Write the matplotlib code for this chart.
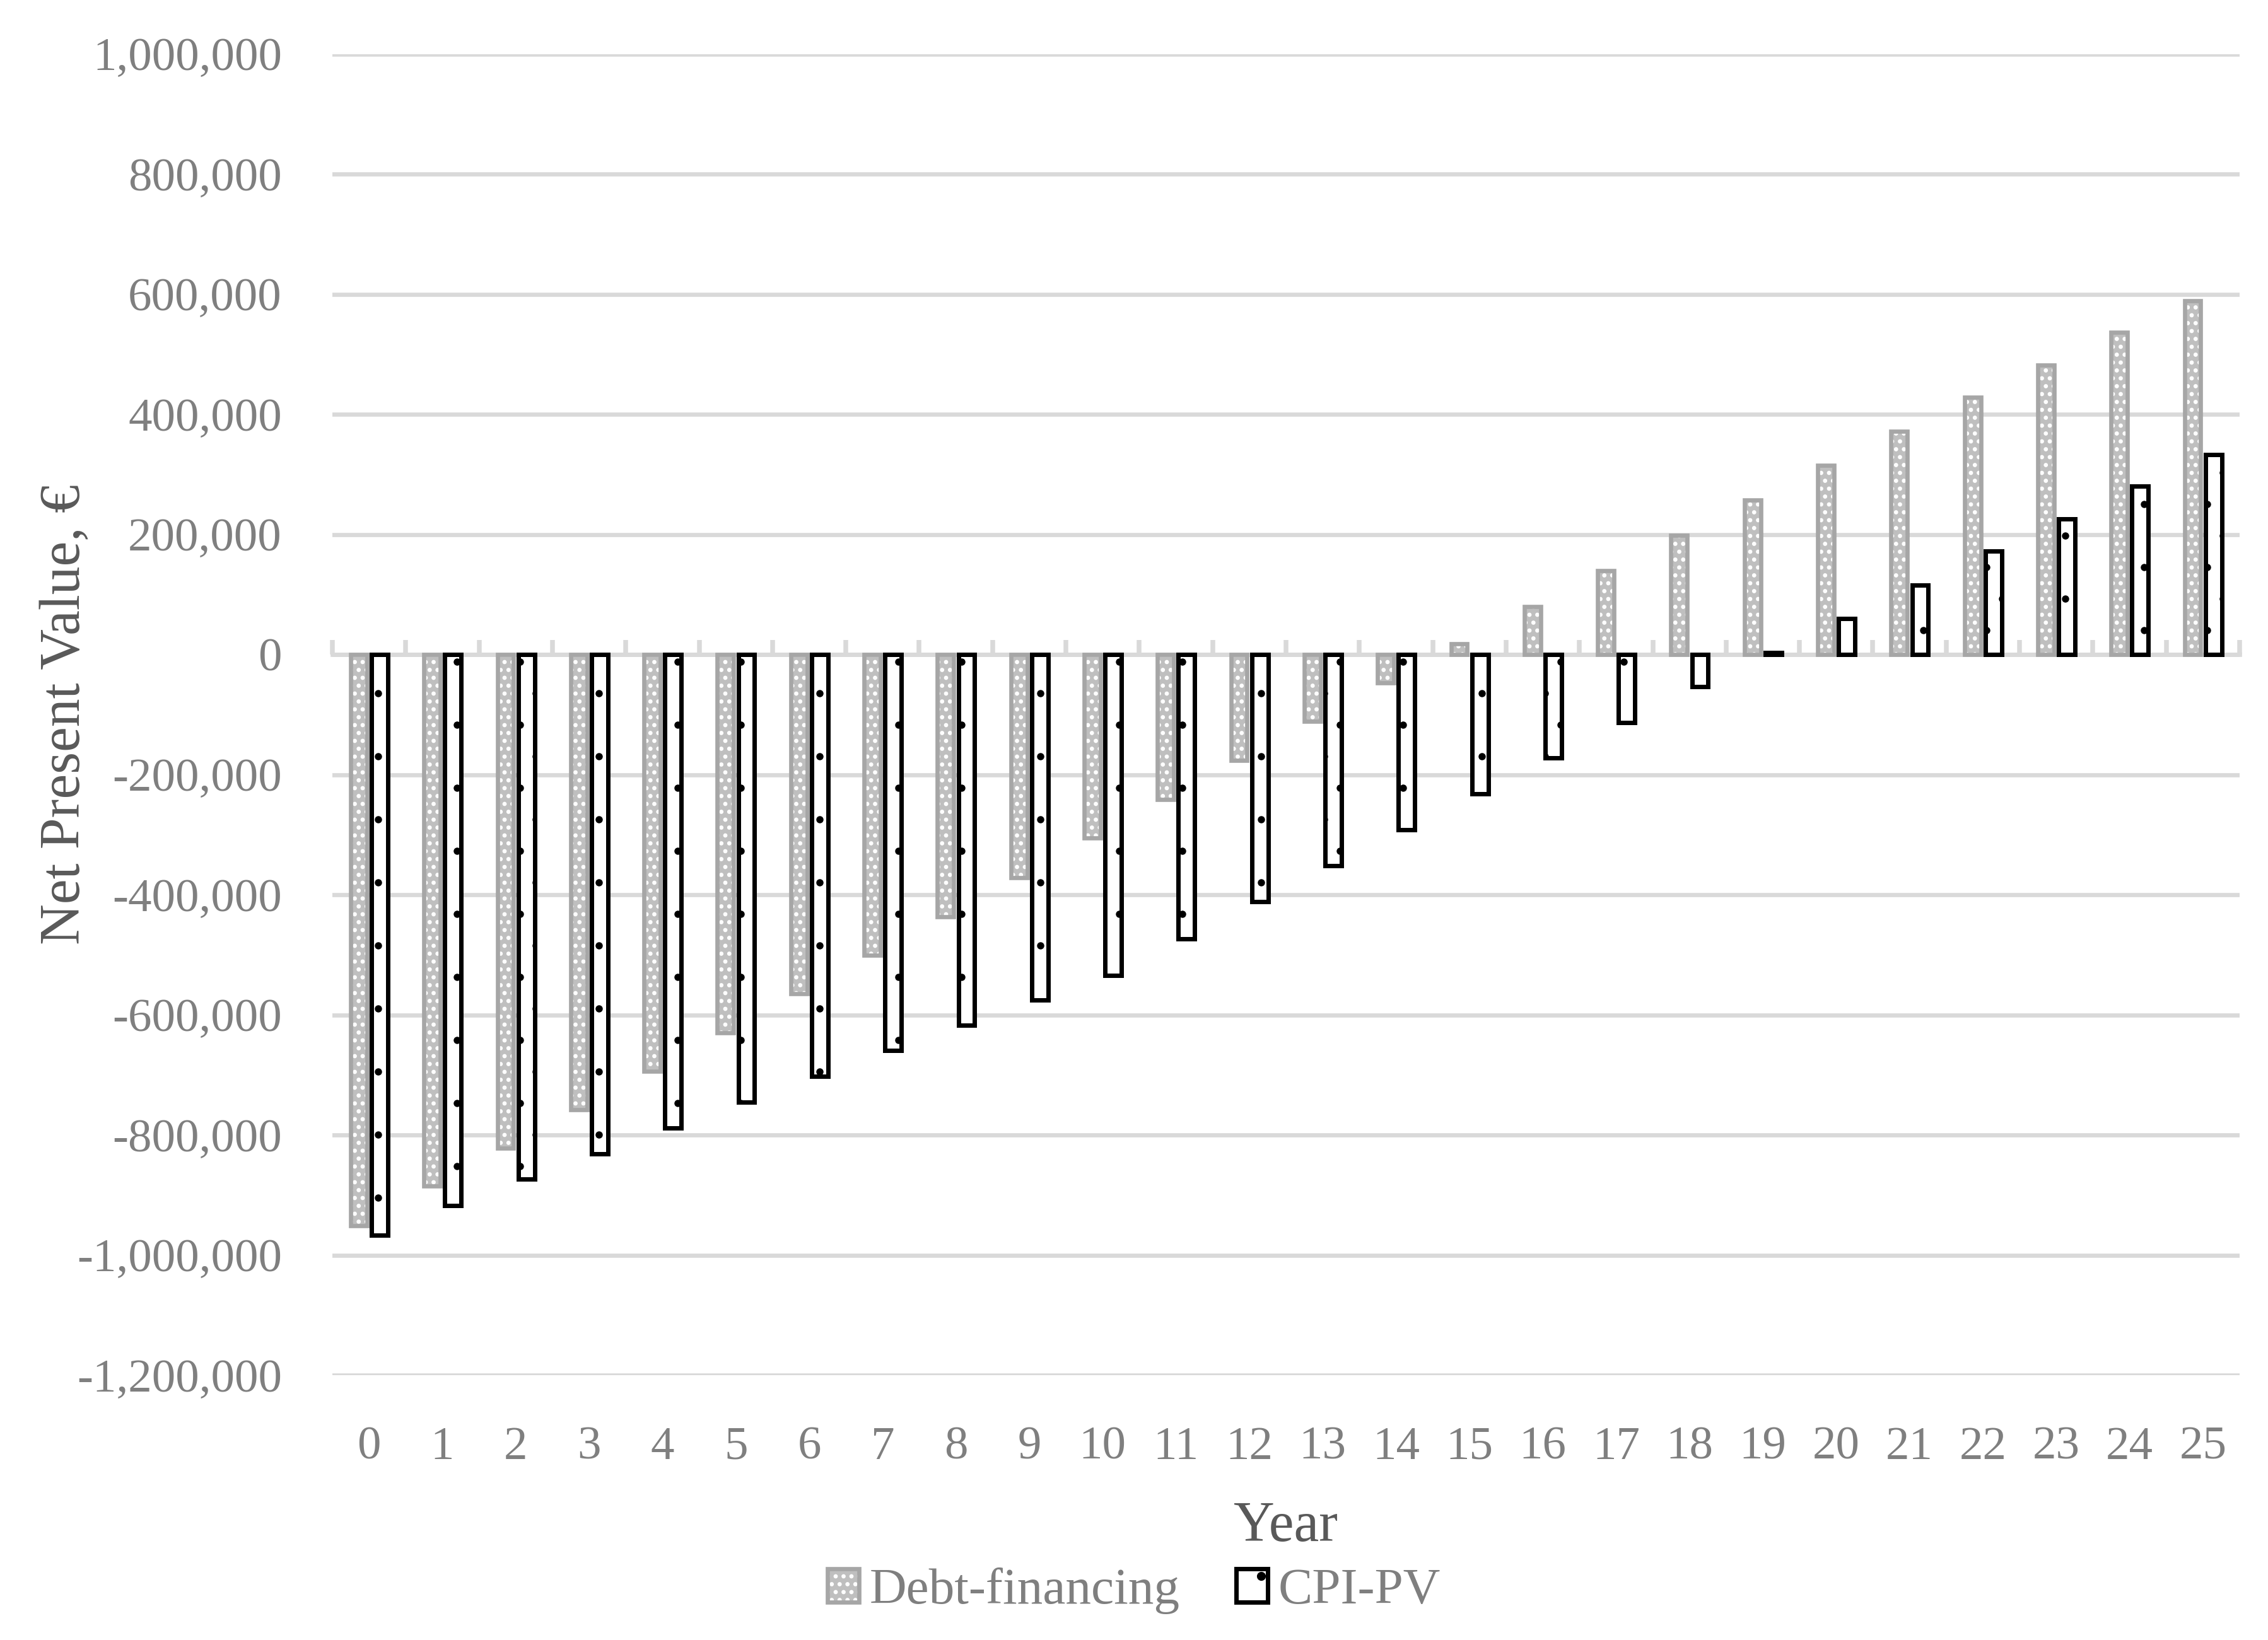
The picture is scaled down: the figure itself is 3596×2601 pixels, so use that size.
import numpy as np
import matplotlib
matplotlib.use("Agg")
import matplotlib.pyplot as plt
from matplotlib.ticker import FuncFormatter, FixedLocator
from matplotlib.legend_handler import HandlerTuple

# ---------------- data ----------------
years = list(range(26))
debt_financing = [-951000, -885000, -822000, -758000, -694000, -630000, -565000,
                  -501000, -437000, -372000, -306000, -241000, -176000, -111000,
                  -47000, 18000, 80000, 140000, 198000, 257000, 315000, 372000,
                  428000, 482000, 536000, 589000]
cpi_pv = [-967000, -918000, -874000, -832000, -788000, -745000, -702000,
          -659000, -617000, -575000, -534000, -473000, -412000, -352000,
          -292000, -232000, -172000, -113000, -54000, 3000, 60000, 116000,
          172000, 226000, 280000, 333000]
y_ticks = [-1200000, -1000000, -800000, -600000, -400000, -200000, 0,
           200000, 400000, 600000, 800000, 1000000]
series_labels = ["Debt-financing", "CPI-PV"]
x_label = "Year"
y_label = "Net Present Value, €"

# ---------------- style ----------------
plt.rcParams["font.family"] = ["Liberation Serif", "DejaVu Serif"]
plt.rcParams["hatch.linewidth"] = 1.0

DPI = 300
W, H = 3596, 2601
L, R, T, B = 527, 3551, 85.5, 2181          # plot area in pixels
GRID = "#D9D9D9"
TICK_COL = "#7F7F7F"
LABEL_COL = "#595959"

fig = plt.figure(figsize=(W / DPI, H / DPI), dpi=DPI)
ax = fig.add_axes([L / W, 1 - B / H, (R - L) / W, (B - T) / H])

ymin, ymax = y_ticks[0], y_ticks[-1]
ax.set_xlim(-0.5, len(years) - 0.5)
ax.set_ylim(ymin, ymax)

x = np.arange(len(years))
w = 0.222
off_gray, off_cpi = -0.14, 0.145

# Debt-financing: gray fill with white pattern, darker gray outline
g_fill = ax.bar(x + off_gray, debt_financing, width=w, color="#BFBFBF",
                edgecolor="white", linewidth=0, hatch="....", zorder=2)
g_edge = ax.bar(x + off_gray, debt_financing, width=w, fill=False,
                edgecolor="#A6A6A6", linewidth=1.6, zorder=3)
# CPI-PV: white with sparse black dots, black outline
c_bars = ax.bar(x + off_cpi, cpi_pv, width=w, facecolor="white",
                edgecolor="black", linewidth=1.68, hatch=".", zorder=3)
for p in c_bars:
    if hasattr(p, "set_hatch_linewidth"):
        p.set_hatch_linewidth(0.35)

# grid & spines
ax.set_axisbelow(True)
ax.yaxis.grid(True, color=GRID, linewidth=1.6)
ax.xaxis.grid(False)
for s in ("left", "right", "top"):
    ax.spines[s].set_visible(False)
ax.spines["bottom"].set_position(("data", 0))
ax.spines["bottom"].set_color(GRID)
ax.spines["bottom"].set_linewidth(1.6)

# y ticks
ax.set_yticks(y_ticks)
ax.yaxis.set_major_formatter(FuncFormatter(lambda v, p: f"{v:,.0f}"))
ax.tick_params(axis="y", length=0, pad=19.2, labelsize=18, labelcolor=TICK_COL)

# x ticks: labels at the bottom, boundary tick marks on the zero line
ax.set_xticks(x)
ax.set_xticklabels([str(v) for v in years])
ax.xaxis.set_minor_locator(FixedLocator(np.arange(-0.5, len(years), 1.0)))
zero_px = T + (ymax - 0) / (ymax - ymin) * (B - T)
label_top_px = 2262
pad_pt = (label_top_px - zero_px) * 72 / DPI
ax.tick_params(axis="x", which="major", length=0, pad=pad_pt, labelsize=18,
               labelcolor=TICK_COL)
ax.tick_params(axis="x", which="minor", direction="in", length=5.5, width=1.8,
               color=GRID)

# axis labels
ax.set_ylabel(y_label, fontsize=21.5, color=LABEL_COL)
ax.yaxis.set_label_coords((103 - L) / (R - L), 0.5)
ax.yaxis.label.set_verticalalignment("center")
ax.set_xlabel(x_label, fontsize=21.5, color=LABEL_COL)
ax.xaxis.set_label_coords(0.5, -(2422 - B) / (B - T))
ax.xaxis.label.set_verticalalignment("center")

# legend
fig.legend(handles=[(g_fill[0], g_edge[0]), c_bars[0]], labels=series_labels,
           loc="center", bbox_to_anchor=(0.5, 1 - 2523 / H), ncol=2,
           frameon=False, fontsize=19.5, labelcolor=TICK_COL,
           handlelength=0.62, handleheight=0.62, handletextpad=0.2,
           columnspacing=1.1,
           handler_map={tuple: HandlerTuple(ndivide=1, pad=0)})

fig.savefig("out.png", dpi=DPI)
